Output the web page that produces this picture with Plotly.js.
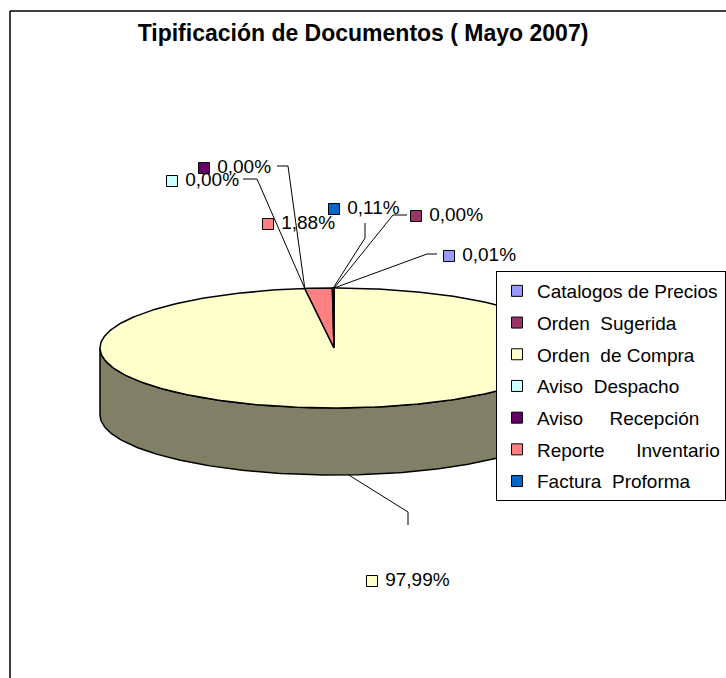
<!DOCTYPE html>
<html>
<head>
<meta charset="utf-8">
<script src="https://cdn.plot.ly/plotly-3.0.1.min.js"></script>
<style>html,body{margin:0;padding:0;background:#fff;}#chart{width:726px;height:678px;}</style>
</head>
<body>
<div id="chart"></div>
<script>
// ---- data ----
const categories = ['Catalogos de Precios', 'Orden\u00a0\u00a0Sugerida', 'Orden\u00a0\u00a0de Compra',
  'Aviso\u00a0\u00a0Despacho', 'Aviso\u00a0\u00a0\u00a0\u00a0\u00a0Recepción',
  'Reporte\u00a0\u00a0\u00a0\u00a0\u00a0\u00a0Inventario', 'Factura\u00a0\u00a0Proforma'];
const percentages = [0.01, 0.00, 97.99, 0.00, 0.00, 1.88, 0.11];
const chartTitle = 'Tipificación de Documentos ( Mayo 2007)';

// ---- style / layout ----
const colors = ['#9999FF', '#993366', '#FFFFCC', '#CCFFFF', '#660066', '#FF8080', '#0066CC'];
const FONT = 'Liberation Sans, Arial, sans-serif';
const pie = {cx: 334, cy: 348, rx: 234, ry: 60, depth: 67};
// label placement (marker centre, elbow, end of leader) in page pixels
const labelPlace = [
  {m: [449, 256], elbow: [427, 254], end: [437, 254]},
  {m: [416, 216], elbow: [393, 215], end: [407, 215]},
  {m: [372, 581], elbow: [408, 512], end: [408, 525]},
  {m: [172, 181], elbow: [257, 179], end: [243, 179]},
  {m: [204, 168], elbow: [288, 166], end: [277, 166]},
  {m: [268, 224], elbow: null, end: null},
  {m: [334, 209], elbow: [365, 238], end: [365, 223]}
];

function darken(hex, f) {
  const n = parseInt(hex.slice(1), 16);
  const r = Math.round(((n >> 16) & 255) * f), g = Math.round(((n >> 8) & 255) * f), b = Math.round((n & 255) * f);
  return 'rgb(' + r + ',' + g + ',' + b + ')';
}
function px(a) { return pie.cx + pie.rx * Math.sin(a * Math.PI / 180); }
function py(a) { return pie.cy - pie.ry * Math.cos(a * Math.PI / 180); }
function arc(a0, a1, dy) {
  const xs = [], ys = [];
  const n = Math.max(2, Math.ceil(Math.abs(a1 - a0) / 1));
  for (let k = 0; k <= n; k++) {
    const a = a0 + (a1 - a0) * k / n;
    xs.push(px(a)); ys.push(py(a) + dy);
  }
  return [xs, ys];
}

const total = percentages.reduce((s, v) => s + v, 0);
const starts = [], ends = [];
let acc = 0;
percentages.forEach(v => { starts.push(acc / total * 360); acc += v; ends.push(acc / total * 360); });

const traces = [];
// side walls (front half only)
percentages.forEach((v, i) => {
  const s = Math.max(starts[i], 90), e = Math.min(ends[i], 270);
  if (e - s <= 1e-9) return;
  const top = arc(s, e, 0), bot = arc(e, s, pie.depth);
  traces.push({type: 'scatter', mode: 'lines', x: top[0].concat(bot[0], [top[0][0]]), y: top[1].concat(bot[1], [top[1][0]]),
    fill: 'toself', fillcolor: darken(colors[i], 0.5), line: {color: '#000', width: 1.5}, showlegend: false, hoverinfo: 'skip'});
});
// top faces
percentages.forEach((v, i) => {
  if (ends[i] - starts[i] <= 1e-9) return;
  const a = arc(starts[i], ends[i], 0);
  traces.push({type: 'scatter', mode: 'lines', x: [pie.cx].concat(a[0], [pie.cx]), y: [pie.cy].concat(a[1], [pie.cy]),
    fill: 'toself', fillcolor: colors[i], line: {color: '#000', width: 1.5}, showlegend: false, hoverinfo: 'skip'});
});
// leader lines
percentages.forEach((v, i) => {
  const lp = labelPlace[i];
  if (!lp.elbow) return;
  const mid = (starts[i] + ends[i]) / 2;
  const front = mid > 90 && mid < 270;
  const sx = px(mid), sy = py(mid) + (front ? pie.depth : 0);
  traces.push({type: 'scatter', mode: 'lines', x: [sx, lp.elbow[0], lp.end[0]], y: [sy, lp.elbow[1], lp.end[1]],
    line: {color: '#000', width: 1}, showlegend: false, hoverinfo: 'skip'});
});
// data labels
percentages.forEach((v, i) => {
  const lp = labelPlace[i];
  traces.push({type: 'scatter', mode: 'markers+text', x: [lp.m[0]], y: [lp.m[1]],
    text: ['\u00a0' + v.toFixed(2).replace('.', ',') + '%'], textposition: 'middle right',
    textfont: {family: FONT, size: 19, color: '#000'},
    marker: {symbol: 'square', size: 11, color: colors[i], line: {color: '#000', width: 1}},
    showlegend: false, hoverinfo: 'skip'});
});
// legend entries
categories.forEach((c, i) => {
  traces.push({type: 'scatter', mode: 'markers', x: [null], y: [null], name: c, legendgroup: 'g' + i,
    marker: {symbol: 'square', size: 11, color: colors[i], line: {color: '#000', width: 1}}});
});

const layout = {
  width: 726, height: 678,
  margin: {l: 0, r: 0, t: 0, b: 0, pad: 0, autoexpand: false},
  paper_bgcolor: '#fff', plot_bgcolor: '#fff',
  showlegend: true,
  hovermode: false,
  title: {text: '<b>' + chartTitle + '</b>', x: 0.5, xanchor: 'center', y: 1 - 33 / 678, yanchor: 'middle',
    yref: 'container', font: {family: FONT, size: 23, color: '#000'}},
  xaxis: {range: [0, 726], visible: false, fixedrange: true},
  yaxis: {range: [678, 0], visible: false, fixedrange: true},
  legend: {x: 496 / 726, xanchor: 'left', y: 1 - 271 / 678, yanchor: 'top', bgcolor: '#fff',
    bordercolor: '#000', borderwidth: 1, font: {family: FONT, size: 19, color: '#000'},
    traceorder: 'grouped', tracegroupgap: 4, itemclick: false, itemdoubleclick: false},
  shapes: [
    {type: 'line', xref: 'x', yref: 'y', x0: 10, y0: 11, x1: 726, y1: 11, line: {color: '#000', width: 1.5}},
    {type: 'line', xref: 'x', yref: 'y', x0: 10, y0: 11, x1: 10, y1: 678, line: {color: '#000', width: 1.5}}
  ]
};

Plotly.newPlot('chart', traces, layout, {staticPlot: true, displayModeBar: false});
</script>
</body>
</html>
